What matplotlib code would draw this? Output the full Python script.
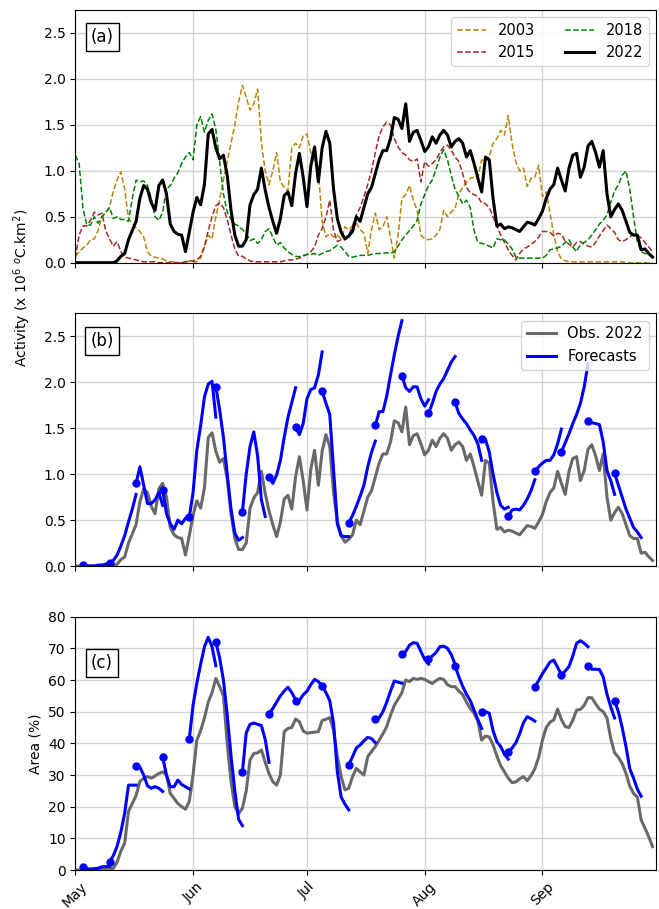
import pandas as pd
import matplotlib
matplotlib.use("Agg")
import matplotlib.pyplot as plt
import matplotlib.dates as mdates

# daily values, 1 May 2022 -> 30 Sep 2022
obs_act = [0, 0, 0, 0, 0, 0, 0, 0, 0, 0,
           0, 0.02, 0.07, 0.1, 0.25, 0.35, 0.45, 0.7, 0.84, 0.8,
           0.65, 0.57, 0.84, 0.9, 0.75, 0.42, 0.34, 0.31, 0.3, 0.12,
           0.33, 0.55, 0.71, 0.63, 0.85, 1.4, 1.45, 1.25, 1.13, 1.17,
           0.95, 0.57, 0.3, 0.18, 0.18, 0.25, 0.63, 0.74, 0.8, 1.03,
           0.79, 0.6, 0.45, 0.32, 0.48, 0.73, 0.77, 0.62, 0.97, 1.19,
           0.93, 0.61, 1.05, 1.26, 0.88, 1.25, 1.43, 1.3, 0.8, 0.48,
           0.33, 0.26, 0.29, 0.34, 0.5, 0.45, 0.6, 0.75, 0.82, 0.97,
           1.12, 1.22, 1.22, 1.35, 1.58, 1.56, 1.46, 1.73, 1.32, 1.42,
           1.44, 1.33, 1.21, 1.26, 1.37, 1.3, 1.39, 1.44, 1.39, 1.26,
           1.32, 1.35, 1.3, 1.15, 1.22, 1.08, 0.92, 0.77, 1.15, 1.12,
           0.7, 0.4, 0.42, 0.37, 0.39, 0.38, 0.36, 0.34, 0.39, 0.44,
           0.43, 0.41, 0.48, 0.56, 0.7, 0.8, 0.85, 1.03, 0.9, 0.78,
           1.03, 1.17, 1.19, 0.93, 1.04, 1.27, 1.32, 1.2, 1.04, 1.22,
           0.75, 0.5, 0.58, 0.64, 0.57, 0.45, 0.33, 0.3, 0.3, 0.14,
           0.15, 0.1, 0.06]

act_2003 = [0.07, 0.12, 0.16, 0.19, 0.25, 0.26, 0.35, 0.5, 0.54, 0.6,
            0.78, 0.9, 0.99, 0.8, 0.48, 0.43, 0.38, 0.34, 0.28, 0.12,
            0.07, 0.06, 0.05, 0.04, 0.02, 0.01, 0.01, 0.0, 0.0, 0.0,
            0.02, 0.01, 0.01, 0.05, 0.17, 0.3, 0.26, 0.5, 0.68, 0.9,
            1.1, 1.3, 1.5, 1.75, 1.93, 1.8, 1.66, 1.73, 1.89, 1.3,
            1.0, 0.85, 1.0, 1.2, 0.88, 0.82, 0.78, 1.25, 1.3, 1.25,
            1.38, 1.4, 1.2, 1.1, 1.0, 0.45, 0.28, 0.32, 0.28, 0.3,
            0.26, 0.39, 0.36, 0.4, 0.43, 0.36, 0.32, 0.1, 0.36, 0.54,
            0.36, 0.39, 0.5, 0.28, 0.05, 0.3, 0.7, 0.74, 0.84, 0.68,
            0.57, 0.3, 0.26, 0.25, 0.26, 0.3, 0.36, 0.57, 0.5, 0.55,
            0.59, 0.75, 0.82, 0.88, 0.92, 0.93, 0.92, 1.12, 1.1, 1.15,
            1.3, 1.35, 1.44, 1.39, 1.6, 1.3, 1.1, 1.0, 1.03, 0.83,
            0.92, 0.93, 1.06, 0.72, 0.77, 0.54, 0.3, 0.12, 0.04, 0.02,
            0.01, 0.01, 0.01, 0.01, 0.01, 0.01, 0.01, 0.01, 0.01, 0.01,
            0.01, 0.01, 0.01, 0.01, 0.01, 0.0, 0.0, 0.0, 0.0, 0.0,
            0.0, 0.0, 0.0]

act_2015 = [0.05, 0.3, 0.4, 0.4, 0.46, 0.55, 0.52, 0.54, 0.35, 0.26,
            0.18, 0.23, 0.12, 0.06, 0.05, 0.04, 0.03, 0.02, 0.01, 0.01,
            0.01, 0.01, 0.0, 0.0, 0.0, 0.0, 0.0, 0.0, 0.0, 0.01,
            0.02, 0.02, 0.03, 0.07, 0.18, 0.35, 0.5, 0.62, 0.65, 0.6,
            0.47, 0.3, 0.15, 0.07, 0.07, 0.04, 0.02, 0.01, 0.01, 0.01,
            0.01, 0.01, 0.01, 0.01, 0.01, 0.02, 0.03, 0.03, 0.04, 0.05,
            0.07, 0.09, 0.12, 0.17, 0.3, 0.37, 0.5, 0.68, 0.35, 0.23,
            0.25, 0.25, 0.3, 0.4, 0.52, 0.6, 0.72, 0.85, 1.0, 1.2,
            1.38, 1.48, 1.53, 1.5, 1.35, 1.26, 1.2, 1.17, 1.12, 1.1,
            1.13, 0.88, 1.1, 1.05, 1.08, 1.12, 1.2, 1.26, 1.28, 1.22,
            1.15, 1.1, 0.97, 0.82, 0.76, 0.74, 0.72, 0.65, 0.64, 0.6,
            0.5, 0.4, 0.3, 0.22, 0.14, 0.08, 0.03, 0.1, 0.15, 0.17,
            0.2, 0.23, 0.28, 0.34, 0.34, 0.33, 0.29, 0.32, 0.31, 0.23,
            0.2, 0.17, 0.22, 0.23, 0.2, 0.18, 0.17, 0.22, 0.29, 0.35,
            0.41, 0.37, 0.33, 0.25, 0.23, 0.25, 0.28, 0.31, 0.3, 0.27,
            0.22, 0.17, 0.12]

act_2018 = [1.17, 1.08, 0.6, 0.41, 0.41, 0.5, 0.43, 0.5, 0.55, 0.6,
            0.48, 0.5, 0.47, 0.47, 0.45, 0.7, 0.9, 0.88, 0.89, 0.84,
            0.7, 0.5, 0.46, 0.55, 0.8, 0.84, 0.92, 0.98, 1.08, 1.15,
            1.2, 1.12, 1.5, 1.59, 1.42, 1.55, 1.62, 1.45, 1.1, 0.75,
            0.55, 0.47, 0.42, 0.4, 0.36, 0.32, 0.24, 0.26, 0.21, 0.25,
            0.34, 0.37, 0.28, 0.19, 0.22, 0.16, 0.12, 0.09, 0.07, 0.065,
            0.08, 0.09, 0.09, 0.1, 0.08, 0.1, 0.12, 0.13, 0.16, 0.19,
            0.17, 0.12, 0.07, 0.06, 0.07, 0.08, 0.08, 0.08, 0.09, 0.1,
            0.1, 0.1, 0.11, 0.1, 0.12, 0.18, 0.25, 0.3, 0.35, 0.4,
            0.46, 0.64, 0.74, 0.84, 0.9, 1.02, 1.15, 1.23, 1.12, 0.95,
            0.8, 0.72, 0.64, 0.68, 0.6, 0.35, 0.22, 0.21, 0.2, 0.18,
            0.16, 0.26, 0.25, 0.25, 0.2, 0.15, 0.06, 0.05, 0.05, 0.05,
            0.05, 0.05, 0.05, 0.05, 0.08, 0.14, 0.15, 0.16, 0.18, 0.22,
            0.25, 0.17, 0.12, 0.2, 0.22, 0.25, 0.3, 0.36, 0.42, 0.46,
            0.52, 0.66, 0.78, 0.85, 0.95, 1.0, 0.8, 0.5, 0.23, 0.12,
            0.1, 0.09, 0.08]

obs_area = [0, 0, 0, 0, 0.2, 0.3, 0.4, 0.5, 0.5, 0.5,
            0.5, 2.5, 6.0, 8.5, 18.5, 21.0, 23.5, 28.0, 28.9, 29.5,
            29.0, 29.7, 30.5, 31.0, 30.0, 24.2, 22.6, 21.0, 20.0, 19.2,
            21.6, 30.0, 41.0, 44.0, 48.0, 53.0, 56.0, 60.5, 57.9, 55.0,
            40.0, 28.0, 20.0, 17.8, 19.5, 25.0, 34.7, 36.8, 37.0, 37.9,
            34.0, 30.5, 27.9, 26.8, 30.0, 43.7, 44.7, 45.0, 47.7, 46.8,
            43.9, 43.2, 43.4, 43.5, 43.7, 47.2, 47.6, 48.1, 44.2, 35.8,
            29.5, 25.3, 25.8, 29.5, 32.1, 31.0, 30.0, 35.8, 37.4, 39.0,
            41.0, 43.0, 45.3, 48.9, 52.0, 54.0, 56.0, 60.0, 59.5, 60.5,
            60.2, 60.5, 60.2, 59.5, 58.9, 59.8, 60.5, 60.2, 58.5, 57.9,
            57.9, 56.5, 55.4, 53.0, 51.0, 49.5, 47.0, 41.0, 42.3, 42.0,
            39.5, 36.0, 33.0, 31.0, 29.0, 27.6, 27.8, 28.8, 29.5, 28.2,
            29.8, 32.0, 35.5, 41.0, 45.0, 46.7, 47.4, 50.8, 47.5, 45.3,
            45.0, 47.3, 50.5, 50.7, 52.0, 54.4, 54.4, 52.5, 50.8, 50.0,
            48.0, 41.5, 37.0, 35.6, 33.6, 30.5, 26.5, 24.2, 23.0, 15.8,
            13.2, 10.5, 7.4]

# weekly forecasts: start day (days after 1 May) and daily values from that day
fc_start = [2, 9, 16, 23, 30, 37, 44, 51, 58, 65, 72,
            79, 86, 93, 100, 107, 114, 121, 128, 135, 142]

fc_act = [
    [0.01, 0.0, 0.0, 0.0, 0.01, 0.01, 0.02, 0.03],
    [0.03, 0.06, 0.12, 0.22, 0.33, 0.48, 0.62, 0.78],
    [0.9, 1.08, 0.88, 0.68, 0.68, 0.72, 0.8, 0.66],
    [0.83, 0.57, 0.46, 0.4, 0.5, 0.46, 0.52, 0.53],
    [0.53, 0.8, 1.26, 1.53, 1.84, 1.98, 2.01, 1.62],
    [1.95, 1.7, 1.4, 1.0, 0.62, 0.36, 0.28, 0.31],
    [0.59, 1.0, 1.3, 1.46, 1.2, 0.72, 0.54],
    [0.97, 0.9, 0.99, 1.15, 1.4, 1.62, 1.78, 1.94],
    [1.51, 1.43, 1.55, 1.82, 1.92, 1.94, 2.08, 2.33],
    [1.9, 1.77, 1.65, 1.05, 0.46, 0.33, 0.32, 0.32],
    [0.47, 0.55, 0.65, 0.76, 0.88, 1.08, 1.24, 1.36],
    [1.53, 1.68, 1.68, 1.85, 2.08, 2.3, 2.5, 2.67],
    [2.07, 1.94, 1.9, 1.95, 1.95, 1.82, 1.74, 1.81],
    [1.66, 1.77, 1.9, 1.98, 2.04, 2.13, 2.22, 2.28],
    [1.78, 1.66, 1.6, 1.55, 1.48, 1.42, 1.33, 1.15],
    [1.38, 1.38, 1.24, 1.0, 0.8, 0.66, 0.62, 0.64],
    [0.54, 0.61, 0.62, 0.61, 0.66, 0.73, 0.82, 0.94],
    [1.03, 1.08, 1.12, 1.15, 1.15, 1.21, 1.33, 1.49],
    [1.24, 1.34, 1.44, 1.55, 1.65, 1.77, 1.95, 2.2],
    [1.58, 1.56, 1.55, 1.54, 1.35, 1.04, 0.93, 0.78],
    [1.01, 0.88, 0.75, 0.62, 0.52, 0.42, 0.37, 0.31],
]

fc_area = [
    [0.8, 0.4, 0.3, 0.4, 0.6, 1.0, 1.1, 1.2],
    [2.6, 4.5, 7.5, 12.0, 18.0, 26.8, 26.8, 26.8],
    [33.0, 32.5, 30.0, 26.6, 25.8, 26.3, 25.8, 24.8],
    [35.6, 30.0, 26.3, 26.3, 28.4, 27.0, 26.3, 25.6],
    [41.3, 52.0, 59.0, 65.0, 70.5, 73.5, 70.5, 64.5],
    [72.0, 67.0, 60.0, 49.0, 36.0, 25.0, 16.0, 14.0],
    [31.0, 43.3, 46.0, 46.4, 46.0, 45.6, 41.2, 34.0],
    [49.3, 51.0, 53.0, 55.0, 56.5, 57.7, 56.0, 53.8],
    [53.5, 53.5, 55.3, 56.5, 58.5, 60.2, 59.5, 58.1],
    [58.1, 56.0, 53.5, 46.3, 31.0, 23.0, 20.8, 19.0],
    [33.2, 35.8, 38.5, 39.5, 40.8, 41.9, 41.5, 40.2],
    [47.6, 48.0, 50.0, 53.0, 56.5, 59.7, 59.3, 59.0],
    [68.2, 69.0, 71.0, 71.8, 71.6, 69.0, 66.5, 65.0],
    [66.5, 67.6, 68.7, 70.5, 70.7, 70.0, 68.0, 65.0],
    [64.5, 61.0, 58.0, 55.5, 53.5, 50.5, 47.5, 44.7],
    [49.8, 50.0, 49.5, 44.0, 40.5, 39.0, 36.5, 35.0],
    [37.2, 38.5, 40.2, 43.0, 46.5, 48.4, 47.8, 47.0],
    [57.9, 59.8, 62.0, 63.8, 65.7, 66.3, 64.0, 61.8],
    [61.6, 62.8, 64.3, 67.6, 71.6, 72.4, 71.6, 70.5],
    [64.4, 63.4, 63.4, 63.3, 61.0, 55.5, 51.5, 48.0],
    [53.4, 50.0, 45.0, 39.0, 32.0, 29.0, 25.5, 23.3],
]

month_ticks = ["2022-05-01", "2022-06-01", "2022-07-01", "2022-08-01", "2022-09-01"]

dates = pd.date_range("2022-05-01", periods=len(obs_act), freq="D")
t0 = pd.Timestamp("2022-05-01")

fig = plt.figure(figsize=(6.59, 9.09), dpi=100)
ax1 = fig.add_axes([0.1143, 0.7110, 0.8812, 0.2780])
ax2 = fig.add_axes([0.1143, 0.3773, 0.8812, 0.2780])
ax3 = fig.add_axes([0.1143, 0.0429, 0.8812, 0.2787])

# (a) past years vs 2022
ax1.plot(dates, act_2003, "--", color="darkgoldenrod", lw=1.1, label="2003")
ax1.plot(dates, act_2015, "--", color="brown", lw=1.1, label="2015")
ax1.plot(dates, act_2018, "--", color="green", lw=1.1, label="2018")
ax1.plot(dates, obs_act, "-", color="black", lw=2.2, label="2022")
ax1.legend(ncol=2, loc="upper right", fontsize=10.5)

# (b) activity forecasts
ax2.plot(dates, obs_act, color="dimgray", lw=2.2, label="Obs. 2022")
for i, (s, vals) in enumerate(zip(fc_start, fc_act)):
    fx = pd.date_range(t0 + pd.Timedelta(days=s), periods=len(vals), freq="D")
    ax2.plot(fx, vals, color="blue", lw=2.2, label="Forecasts" if i == 0 else None)
    ax2.plot(fx[0], vals[0], "o", color="blue", ms=5)
ax2.legend(loc="upper right", fontsize=10.5)

# (c) area forecasts
ax3.plot(dates, obs_area, color="dimgray", lw=2.2)
for s, vals in zip(fc_start, fc_area):
    fx = pd.date_range(t0 + pd.Timedelta(days=s), periods=len(vals), freq="D")
    ax3.plot(fx, vals, color="blue", lw=2.2)
    ax3.plot(fx[0], vals[0], "o", color="blue", ms=5)

for ax in (ax1, ax2, ax3):
    ax.set_xlim(pd.Timestamp("2022-05-01"), pd.Timestamp("2022-09-30 22:00"))
    ax.set_xticks(pd.to_datetime(month_ticks))
    ax.xaxis.set_major_formatter(mdates.DateFormatter("%b"))
    ax.grid(True, color="lightgray", lw=1)
    ax.set_axisbelow(True)
    ax.tick_params(labelsize=10)

for ax in (ax1, ax2):
    ax.set_ylim(0, 2.75)
    ax.set_yticks([0, 0.5, 1.0, 1.5, 2.0, 2.5])
    ax.tick_params(labelbottom=False)

ax3.set_ylim(0, 80)
ax3.set_yticks(range(0, 81, 10))
plt.setp(ax3.get_xticklabels(), rotation=45, ha="center")
ax3.set_ylabel("Area (%)", fontsize=10)

box = dict(facecolor="white", edgecolor="black", boxstyle="square,pad=0.3")
ax1.text(0.046, 0.893, "(a)", transform=ax1.transAxes, fontsize=12, ha="center", va="center", bbox=box)
ax2.text(0.046, 0.889, "(b)", transform=ax2.transAxes, fontsize=12, ha="center", va="center", bbox=box)
ax3.text(0.046, 0.818, "(c)", transform=ax3.transAxes, fontsize=12, ha="center", va="center", bbox=box)

fig.text(0.033, 0.683, "Activity (x 10$^6$ $^o$C.km$^2$)", rotation=90,
         ha="center", va="center", fontsize=10)

plt.savefig("out.png", dpi=100)
